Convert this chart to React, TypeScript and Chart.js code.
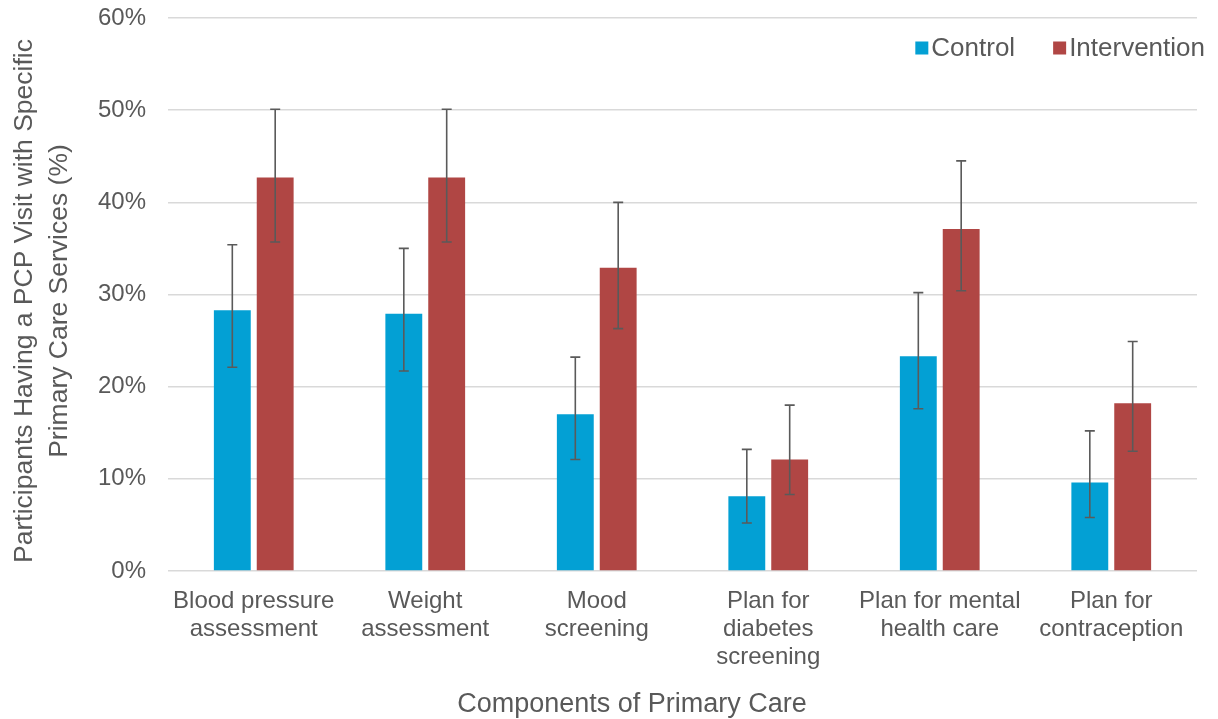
import React, { useEffect, useRef } from "react";
import { Chart, registerables } from "chart.js";

Chart.register(...registerables);

const categories: string[][] = [
  ["Blood pressure", "assessment"],
  ["Weight", "assessment"],
  ["Mood", "screening"],
  ["Plan for", "diabetes", "screening"],
  ["Plan for mental", "health care"],
  ["Plan for", "contraception"],
];
const controlValues = [28.3, 27.9, 17.0, 8.1, 23.3, 9.6];
const controlLow = [22.1, 21.7, 12.1, 5.2, 17.6, 5.8];
const controlHigh = [35.4, 35.0, 23.2, 13.2, 30.2, 15.2];
const interventionValues = [42.7, 42.7, 32.9, 12.1, 37.1, 18.2];
const interventionLow = [35.7, 35.7, 26.3, 8.3, 30.4, 13.0];
const interventionHigh = [50.1, 50.1, 40.0, 18.0, 44.5, 24.9];
const yTicks = [0, 10, 20, 30, 40, 50, 60];
const seriesNames = ["Control", "Intervention"];
const seriesColors = ["#03a0d4", "#b04644"];
const yTitle = ["Participants Having a PCP Visit with Specific", "Primary Care Services (%)"];
const xTitle = "Components of Primary Care";

const FONT = "'Liberation Sans', Arial, sans-serif";
const TEXT = "#595959";

const errorBarPlugin = {
  id: "errorBars",
  afterDatasetsDraw(chart: any) {
    const ctx = chart.ctx;
    const y = chart.scales.y;
    const lows = [controlLow, interventionLow];
    const highs = [controlHigh, interventionHigh];
    ctx.save();
    ctx.strokeStyle = "#5a5a5a";
    ctx.lineWidth = 1.6;
    chart.data.datasets.forEach((_: any, di: number) => {
      const meta = chart.getDatasetMeta(di);
      meta.data.forEach((bar: any, i: number) => {
        const x = bar.x;
        const yl = y.getPixelForValue(lows[di][i]);
        const yh = y.getPixelForValue(highs[di][i]);
        ctx.beginPath();
        ctx.moveTo(x, yl);
        ctx.lineTo(x, yh);
        ctx.moveTo(x - 5, yl);
        ctx.lineTo(x + 5, yl);
        ctx.moveTo(x - 5, yh);
        ctx.lineTo(x + 5, yh);
        ctx.stroke();
      });
    });
    ctx.restore();
  },
};

const legendPlugin = {
  id: "insideLegend",
  afterDraw(chart: any) {
    const ctx = chart.ctx;
    const area = chart.chartArea;
    ctx.save();
    ctx.font = `26px ${FONT}`;
    ctx.textBaseline = "middle";
    ctx.textAlign = "left";
    const ds = chart.data.datasets;
    const widths = ds.map((d: any) => ctx.measureText(d.label).width);
    const box = 13;
    const gapBoxText = 3;
    const gapItems = 38;
    let total = 0;
    widths.forEach((w: number, i: number) => {
      total += box + gapBoxText + w + (i < widths.length - 1 ? gapItems : 0);
    });
    let x = area.right + 8 - total;
    const yc = area.top + 30;
    ds.forEach((d: any, i: number) => {
      ctx.fillStyle = d.backgroundColor;
      ctx.fillRect(x, yc - box / 2, box, box);
      x += box + gapBoxText;
      ctx.fillStyle = TEXT;
      ctx.fillText(d.label, x, yc + 1);
      x += widths[i] + gapItems;
    });
    ctx.restore();
  },
};

const titlesPlugin = {
  id: "axisTitles",
  afterDraw(chart: any) {
    const ctx = chart.ctx;
    ctx.save();
    ctx.fillStyle = TEXT;
    ctx.textAlign = "center";
    ctx.textBaseline = "alphabetic";
    ctx.font = `27px ${FONT}`;
    ctx.fillText(xTitle, 632, 712);
    ctx.font = `26.5px ${FONT}`;
    ctx.translate(0, 301);
    ctx.rotate(-Math.PI / 2);
    yTitle.forEach((line, i) => {
      ctx.fillText(line, 0, 32 + i * 35);
    });
    ctx.restore();
  },
};

export default function App() {
  const ref = useRef<HTMLCanvasElement | null>(null);
  useEffect(() => {
    if (!ref.current) return;
    const chart = new Chart(ref.current, {
      type: "bar",
      data: {
        labels: categories as any,
        datasets: [
          {
            label: seriesNames[0],
            data: controlValues,
            backgroundColor: seriesColors[0],
            categoryPercentage: 0.5,
            barPercentage: 0.86,
          },
          {
            label: seriesNames[1],
            data: interventionValues,
            backgroundColor: seriesColors[1],
            categoryPercentage: 0.5,
            barPercentage: 0.86,
          },
        ],
      },
      options: {
        animation: false,
        responsive: true,
        maintainAspectRatio: false,
        devicePixelRatio: 1,
        layout: { padding: { left: 0, right: 21, top: 18, bottom: 0 } },
        plugins: {
          legend: { display: false },
          tooltip: { enabled: false },
        },
        scales: {
          x: {
            grid: { display: false },
            border: { display: false },
            ticks: {
              color: TEXT,
              font: { family: FONT, size: 24, lineHeight: 1.18 },
              padding: 8,
              autoSkip: false,
              maxRotation: 0,
              minRotation: 0,
            },
            afterFit(scale: any) {
              scale.height = 148;
              scale.paddingTop = 0;
              scale.paddingBottom = 0;
            },
          },
          y: {
            min: 0,
            max: 60,
            afterBuildTicks(scale: any) {
              scale.ticks = yTicks.map((v) => ({ value: v }));
            },
            grid: { color: "#d9d9d9", lineWidth: 1.5, drawTicks: false },
            border: { display: false },
            ticks: {
              color: TEXT,
              font: { family: FONT, size: 24 },
              padding: 22,
              callback: (v: any) => `${v}%`,
            },
            afterFit(scale: any) {
              scale.width = 168;
              scale.paddingTop = 0;
              scale.paddingBottom = 0;
            },
          },
        },
      },
      plugins: [errorBarPlugin, legendPlugin, titlesPlugin],
    });
    return () => chart.destroy();
  }, []);
  return (
    <div style={{ position: "absolute", left: 0, top: 0, width: 1218, height: 719, background: "#fff" }}>
      <canvas ref={ref} />
    </div>
  );
}
